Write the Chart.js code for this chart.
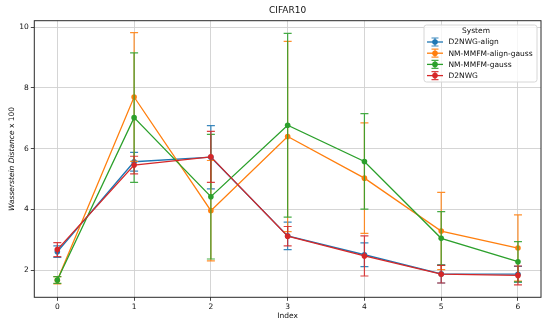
<!DOCTYPE html>
<html><head><meta charset="utf-8">
<script src="https://cdn.jsdelivr.net/npm/chart.js@4"></script>
<style>html,body{margin:0;padding:0;background:#fff}#wrap{width:549px;height:330px;position:relative}</style>
</head><body><div id="wrap"><canvas id="c"></canvas></div>
<script>
const chartTitle = "CIFAR10";
const xAxisTitle = "Index";
const yAxisTitleItalic = "Wasserstein Distance";
const yAxisTitleRest = " x 100";
const legendTitle = "System";

const indices = [0, 1, 2, 3, 4, 5, 6];
const xTicks = [0, 1, 2, 3, 4, 5, 6];
const yTicks = [2, 4, 6, 8, 10];

const seriesNames = ["D2NWG-align", "NM-MMFM-align-gauss", "NM-MMFM-gauss", "D2NWG"];
const seriesColors = ["#1f77b4", "#ff7f0e", "#2ca02c", "#d62728"];

const d2nwgAlign       = [2.61, 5.57, 5.72, 3.13, 2.51, 1.88, 1.87];
const d2nwgAlignErr    = [0.19, 0.31, 1.04, 0.45, 0.39, 0.30, 0.26];
const nmAlignGauss     = [1.67, 7.70, 3.96, 6.40, 5.03, 3.29, 2.73];
const nmAlignGaussErr  = [0.12, 2.12, 1.65, 3.13, 1.82, 1.27, 1.09];
const nmGauss          = [1.68, 7.02, 4.42, 6.77, 5.58, 3.05, 2.28];
const nmGaussErr       = [0.11, 2.13, 2.05, 3.02, 1.57, 0.88, 0.66];
const d2nwg            = [2.68, 5.46, 5.73, 3.12, 2.47, 1.87, 1.83];
const d2nwgErr         = [0.23, 0.29, 0.84, 0.32, 0.66, 0.29, 0.31];

const seriesValues = [d2nwgAlign, nmAlignGauss, nmGauss, d2nwg];
const seriesErrors = [d2nwgAlignErr, nmAlignGaussErr, nmGaussErr, d2nwgErr];

const FONT = "'DejaVu Sans', sans-serif";

function rgba(hex, a) {
  const n = parseInt(hex.slice(1), 16);
  return `rgba(${(n>>16)&255},${(n>>8)&255},${n&255},${a})`;
}

const datasets = seriesNames.map((name, i) => ({
  label: name,
  data: indices.map((x, j) => ({x: x, y: seriesValues[i][j]})),
  borderColor: seriesColors[i],
  backgroundColor: seriesColors[i],
  pointBackgroundColor: seriesColors[i],
  pointBorderWidth: 0,
  pointRadius: 2.8,
  borderWidth: 1.3,
  tension: 0,
  fill: false,
  order: seriesNames.length - i
}));

const decorPlugin = {
  id: 'decor',
  beforeDatasetDraw(chart, args) {
    const i = args.index;
    const xs = chart.scales.x, ys = chart.scales.y;
    const ctx = chart.ctx;
    ctx.save();
    ctx.strokeStyle = rgba(seriesColors[i], 0.88);
    ctx.lineWidth = 1.2;
    indices.forEach((x, j) => {
      const v = seriesValues[i][j], e = seriesErrors[i][j];
      const px = xs.getPixelForValue(x);
      const pTop = ys.getPixelForValue(v + e);
      const pBot = ys.getPixelForValue(v - e);
      ctx.beginPath();
      ctx.moveTo(px, pTop); ctx.lineTo(px, pBot);
      ctx.moveTo(px - 4, pTop); ctx.lineTo(px + 4, pTop);
      ctx.moveTo(px - 4, pBot); ctx.lineTo(px + 4, pBot);
      ctx.stroke();
    });
    ctx.restore();
  },
  afterDatasetsDraw(chart) {
    const ctx = chart.ctx;
    const a = chart.chartArea;
    ctx.save();
    // spines
    ctx.strokeStyle = '#2a2a2a';
    ctx.lineWidth = 1;
    ctx.strokeRect(a.left, a.top, a.right - a.left, a.bottom - a.top);

    // legend
    const bx = 424, by = 25, bw = 113, bh = 57, r = 2.5;
    ctx.beginPath();
    ctx.moveTo(bx + r, by);
    ctx.arcTo(bx + bw, by, bx + bw, by + bh, r);
    ctx.arcTo(bx + bw, by + bh, bx, by + bh, r);
    ctx.arcTo(bx, by + bh, bx, by, r);
    ctx.arcTo(bx, by, bx + bw, by, r);
    ctx.closePath();
    ctx.fillStyle = 'rgba(255,255,255,0.8)';
    ctx.fill();
    ctx.strokeStyle = '#d6d6d6';
    ctx.lineWidth = 1;
    ctx.stroke();

    ctx.fillStyle = '#111';
    ctx.font = `7.5px ${FONT}`;
    ctx.textAlign = 'center';
    ctx.textBaseline = 'middle';
    ctx.fillText(legendTitle, 476, 31);
    const rowY = [42, 53.2, 64.4, 75.6];
    seriesNames.forEach((name, i) => {
      const y = rowY[i];
      const c = seriesColors[i];
      ctx.strokeStyle = c;
      ctx.lineWidth = 1.3;
      ctx.beginPath(); ctx.moveTo(427, y); ctx.lineTo(443, y); ctx.stroke();
      ctx.strokeStyle = rgba(c, 0.88);
      ctx.lineWidth = 1.2;
      ctx.beginPath();
      ctx.moveTo(435, y - 4); ctx.lineTo(435, y + 4);
      ctx.moveTo(431.5, y - 4); ctx.lineTo(438.5, y - 4);
      ctx.moveTo(431.5, y + 4); ctx.lineTo(438.5, y + 4);
      ctx.stroke();
      ctx.fillStyle = c;
      ctx.beginPath(); ctx.arc(435, y, 2.8, 0, Math.PI * 2); ctx.fill();
      ctx.fillStyle = '#111';
      ctx.textAlign = 'left';
      ctx.fillText(name, 448.5, y + 0.5);
    });

    // title
    ctx.fillStyle = '#111';
    ctx.font = `9px ${FONT}`;
    ctx.textAlign = 'center';
    ctx.textBaseline = 'middle';
    ctx.fillText(chartTitle, (a.left + a.right) / 2, 11);

    // x title
    ctx.font = `7.5px ${FONT}`;
    ctx.fillText(xAxisTitle, (a.left + a.right) / 2, 316.5);

    // y title (italic part + normal part)
    ctx.translate(12, (a.top + a.bottom) / 2);
    ctx.rotate(-Math.PI / 2);
    ctx.font = `italic 7.5px ${FONT}`;
    const w1 = ctx.measureText(yAxisTitleItalic).width;
    ctx.font = `7.5px ${FONT}`;
    const w2 = ctx.measureText(yAxisTitleRest).width;
    let sx = -(w1 + w2) / 2;
    ctx.textAlign = 'left';
    ctx.font = `italic 7.5px ${FONT}`;
    ctx.fillText(yAxisTitleItalic, sx, 0);
    ctx.font = `7.5px ${FONT}`;
    ctx.fillText(yAxisTitleRest, sx + w1, 0);
    ctx.restore();
  }
};

new Chart(document.getElementById('c'), {
  type: 'line',
  data: { datasets },
  options: {
    responsive: true,
    maintainAspectRatio: false,
    animation: false,
    devicePixelRatio: 1,
    layout: { padding: { top: 20.7, right: 8, left: 0, bottom: 0 } },
    plugins: { legend: { display: false }, title: { display: false }, tooltip: { enabled: false } },
    scales: {
      x: {
        type: 'linear',
        min: -0.3, max: 6.3,
        afterBuildTicks: s => { s.ticks = xTicks.map(v => ({ value: v })); },
        afterFit: s => { s.height = 32.7; },
        ticks: { font: { family: FONT, size: 7.5 }, color: '#111', padding: 2, maxRotation: 0, autoSkip: false,
                 callback: v => String(v) },
        grid: { color: '#d0d0d0', lineWidth: 0.9, tickColor: '#333', tickLength: 3.5, drawOnChartArea: true },
        border: { display: false }
      },
      y: {
        type: 'linear',
        min: 1.11, max: 10.21,
        afterBuildTicks: s => { s.ticks = yTicks.map(v => ({ value: v })); },
        afterFit: s => { s.width = 34.3; },
        ticks: { font: { family: FONT, size: 7.5 }, color: '#111', padding: 2, autoSkip: false,
                 callback: v => String(v) },
        grid: { color: '#d0d0d0', lineWidth: 0.9, tickColor: '#333', tickLength: 3.5 },
        border: { display: false }
      }
    }
  },
  plugins: [decorPlugin]
});
</script>
</body></html>
